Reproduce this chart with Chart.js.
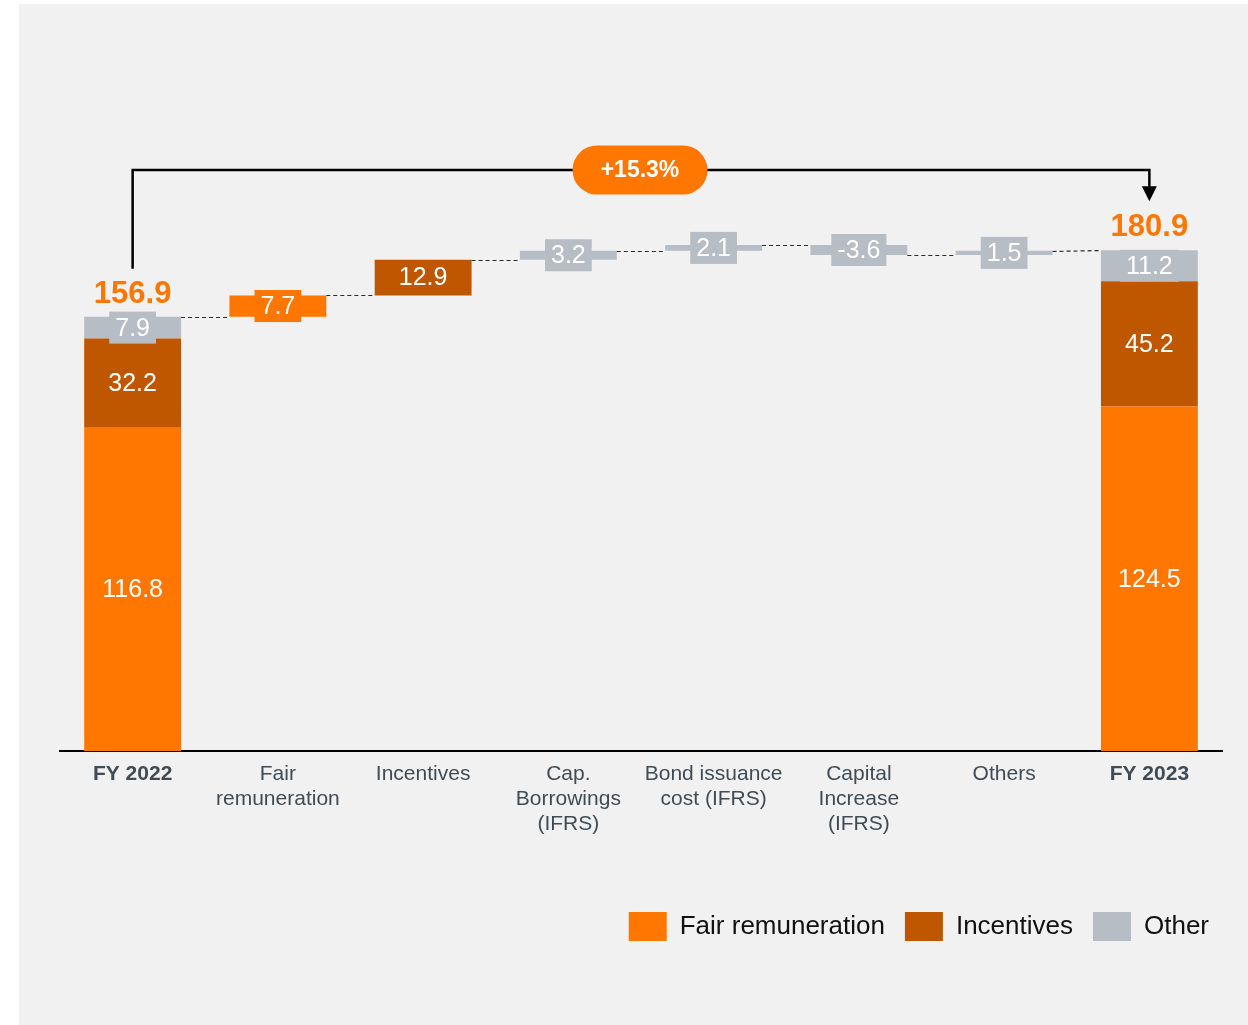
<!DOCTYPE html>
<html><head><meta charset="utf-8">
<script src="https://cdn.jsdelivr.net/npm/chart.js@4/dist/chart.umd.min.js"></script>
<style>html,body{margin:0;padding:0;background:#fff;overflow:hidden}#wrap{position:absolute;left:0;top:0;width:1248px;height:1025px}</style>
</head><body><div id="wrap"><canvas id="c" width="1248" height="1025"></canvas></div>
<script>
const categories = [['FY 2022'], ['Fair', 'remuneration'], ['Incentives'], ['Cap.', 'Borrowings', '(IFRS)'], ['Bond issuance', 'cost (IFRS)'], ['Capital', 'Increase', '(IFRS)'], ['Others'], ['FY 2023']];
const seriesNames = ['Fair remuneration', 'Incentives', 'Other'];
const openingParts = [116.8, 32.2, 7.9];
const closingParts = [124.5, 45.2, 11.2];
const bridgeDeltas = [7.7, 12.9, 3.2, 2.1, -3.6, 1.5];
const bridgeSeries = [0, 1, 2, 2, 2, 2];
const totals = [156.9, 180.9];
const growthLabel = '+15.3%';
const colors = ['#FF7700', '#BF5700', '#B6BDC4'];

const FONT = "'Liberation Sans', Arial, sans-serif";
const n = categories.length;
const seriesData = seriesNames.map(() => new Array(n).fill(null));
const seriesLabels = seriesNames.map(() => new Array(n).fill(null));
let acc = 0;
openingParts.forEach((v, s) => { seriesData[s][0] = [acc, acc + v]; seriesLabels[s][0] = v; acc += v; });
acc = 0;
closingParts.forEach((v, s) => { seriesData[s][n - 1] = [acc, acc + v]; seriesLabels[s][n - 1] = v; acc += v; });
const levelAfter = [totals[0]];
const levelBefore = [0];
let run = totals[0];
bridgeDeltas.forEach((d, i) => {
  const s = bridgeSeries[i];
  seriesData[s][i + 1] = [run, run + d];
  seriesLabels[s][i + 1] = d;
  levelBefore.push(run);
  run += d;
  levelAfter.push(run);
});
levelBefore.push(totals[1]);
levelAfter.push(totals[1]);

const panelPlugin = {
  id: 'panel',
  afterLayout(chart) {
    if (chart.legend) { chart.legend.left += 7; chart.legend.right += 7; }
  },
  beforeDraw(chart) {
    const ctx = chart.ctx;
    ctx.save();
    ctx.fillStyle = '#ffffff';
    ctx.fillRect(0, 0, chart.width, chart.height);
    ctx.fillStyle = '#F1F1F1';
    ctx.fillRect(19, 4, chart.width - 19, chart.height - 4);
    ctx.restore();
  }
};

function barGeom(chart, idx) {
  for (let s = 0; s < seriesNames.length; s++) {
    const el = chart.getDatasetMeta(s).data[idx];
    if (seriesData[s][idx] && el) return { x: el.x, w: el.width };
  }
  return null;
}

const overlayPlugin = {
  id: 'overlay',
  afterDatasetsDraw(chart) {
    const ctx = chart.ctx;
    const ys = chart.scales.y;
    const xs = chart.scales.x;
    ctx.save();
    ctx.strokeStyle = '#2a2a2a';
    ctx.lineWidth = 1.2;
    ctx.setLineDash([4, 3]);
    for (let i = 0; i < n - 1; i++) {
      const a = barGeom(chart, i), b = barGeom(chart, i + 1);
      ctx.beginPath();
      ctx.moveTo(a.x + a.w / 2, Math.round(ys.getPixelForValue(levelAfter[i])) + 0.5);
      ctx.lineTo(b.x - b.w / 2, Math.round(ys.getPixelForValue(levelBefore[i + 1])) + 0.5);
      ctx.stroke();
    }
    ctx.setLineDash([]);
    ctx.font = '25px ' + FONT;
    ctx.textAlign = 'center';
    ctx.textBaseline = 'middle';
    seriesNames.forEach((_, s) => {
      const meta = chart.getDatasetMeta(s);
      meta.data.forEach((el, idx) => {
        const v = seriesLabels[s][idx];
        if (v === null) return;
        const txt = v.toFixed(1);
        const cy = (el.y + el.base) / 2;
        const tw = ctx.measureText(txt).width;
        ctx.fillStyle = colors[s];
        ctx.fillRect(el.x - tw / 2 - 6, cy - 16, tw + 12, 32);
        ctx.fillStyle = '#ffffff';
        ctx.fillText(txt, el.x, cy + 1);
      });
    });
    ctx.font = 'bold 31px ' + FONT;
    ctx.fillStyle = '#FF7700';
    ctx.fillText(totals[0].toFixed(1), xs.getPixelForValue(0), ys.getPixelForValue(totals[0]) - 22);
    ctx.fillText(totals[1].toFixed(1), xs.getPixelForValue(n - 1), ys.getPixelForValue(totals[1]) - 23);
    const x0 = xs.getPixelForValue(0), x1 = xs.getPixelForValue(n - 1);
    const yTop = Math.round(ys.getPixelForValue(totals[1])) - 80;
    const yStart = ys.getPixelForValue(totals[0]) - 48;
    const yTip = ys.getPixelForValue(totals[1]) - 49;
    ctx.strokeStyle = '#000';
    ctx.lineWidth = 2.5;
    ctx.beginPath();
    ctx.moveTo(x0, yStart);
    ctx.lineTo(x0, yTop);
    ctx.lineTo(x1, yTop);
    ctx.lineTo(x1, yTip - 14);
    ctx.stroke();
    ctx.fillStyle = '#000';
    ctx.beginPath();
    ctx.moveTo(x1 - 7.5, yTip - 15);
    ctx.lineTo(x1 + 7.5, yTip - 15);
    ctx.lineTo(x1, yTip);
    ctx.closePath();
    ctx.fill();
    const pc = (x0 + x1) / 2 - 1, pw = 135, ph = 49;
    ctx.fillStyle = '#FF7700';
    ctx.beginPath();
    ctx.roundRect(pc - pw / 2, yTop - ph / 2, pw, ph, ph / 2);
    ctx.fill();
    ctx.fillStyle = '#fff';
    ctx.font = 'bold 23px ' + FONT;
    ctx.fillText(growthLabel, pc, yTop + 1);
    ctx.restore();
  }
};

new Chart(document.getElementById('c'), {
  type: 'bar',
  data: {
    labels: categories,
    datasets: seriesNames.map((name, s) => ({
      label: name,
      data: seriesData[s],
      backgroundColor: colors[s],
      borderWidth: 0,
      grouped: false,
      barPercentage: 0.667,
      categoryPercentage: 1
    }))
  },
  options: {
    responsive: false,
    animation: false,
    devicePixelRatio: 1,
    layout: { padding: { left: 60, right: 26, top: 59, bottom: 74 } },
    scales: {
      x: {
        grid: { display: false, drawTicks: false },
        border: { display: true, color: '#000', width: 2 },
        ticks: {
          padding: 11,
          color: '#3F4C56',
          maxRotation: 0,
          autoSkip: false,
          font: (c) => ({ family: FONT, size: 21, weight: (c.index === 0 || c.index === n - 1) ? 'bold' : 'normal', lineHeight: '25px' })
        },
        afterFit(scale) { scale.height = 141; }
      },
      y: { display: false, min: 0, max: 250 }
    },
    plugins: {
      tooltip: { enabled: false },
      legend: {
        position: 'bottom',
        align: 'end',
        labels: {
          boxWidth: 38,
          boxHeight: 29,
          padding: 20,
          color: '#111',
          font: { family: FONT, size: 26 }
        }
      }
    }
  },
  plugins: [panelPlugin, overlayPlugin]
});
</script>
</body></html>
